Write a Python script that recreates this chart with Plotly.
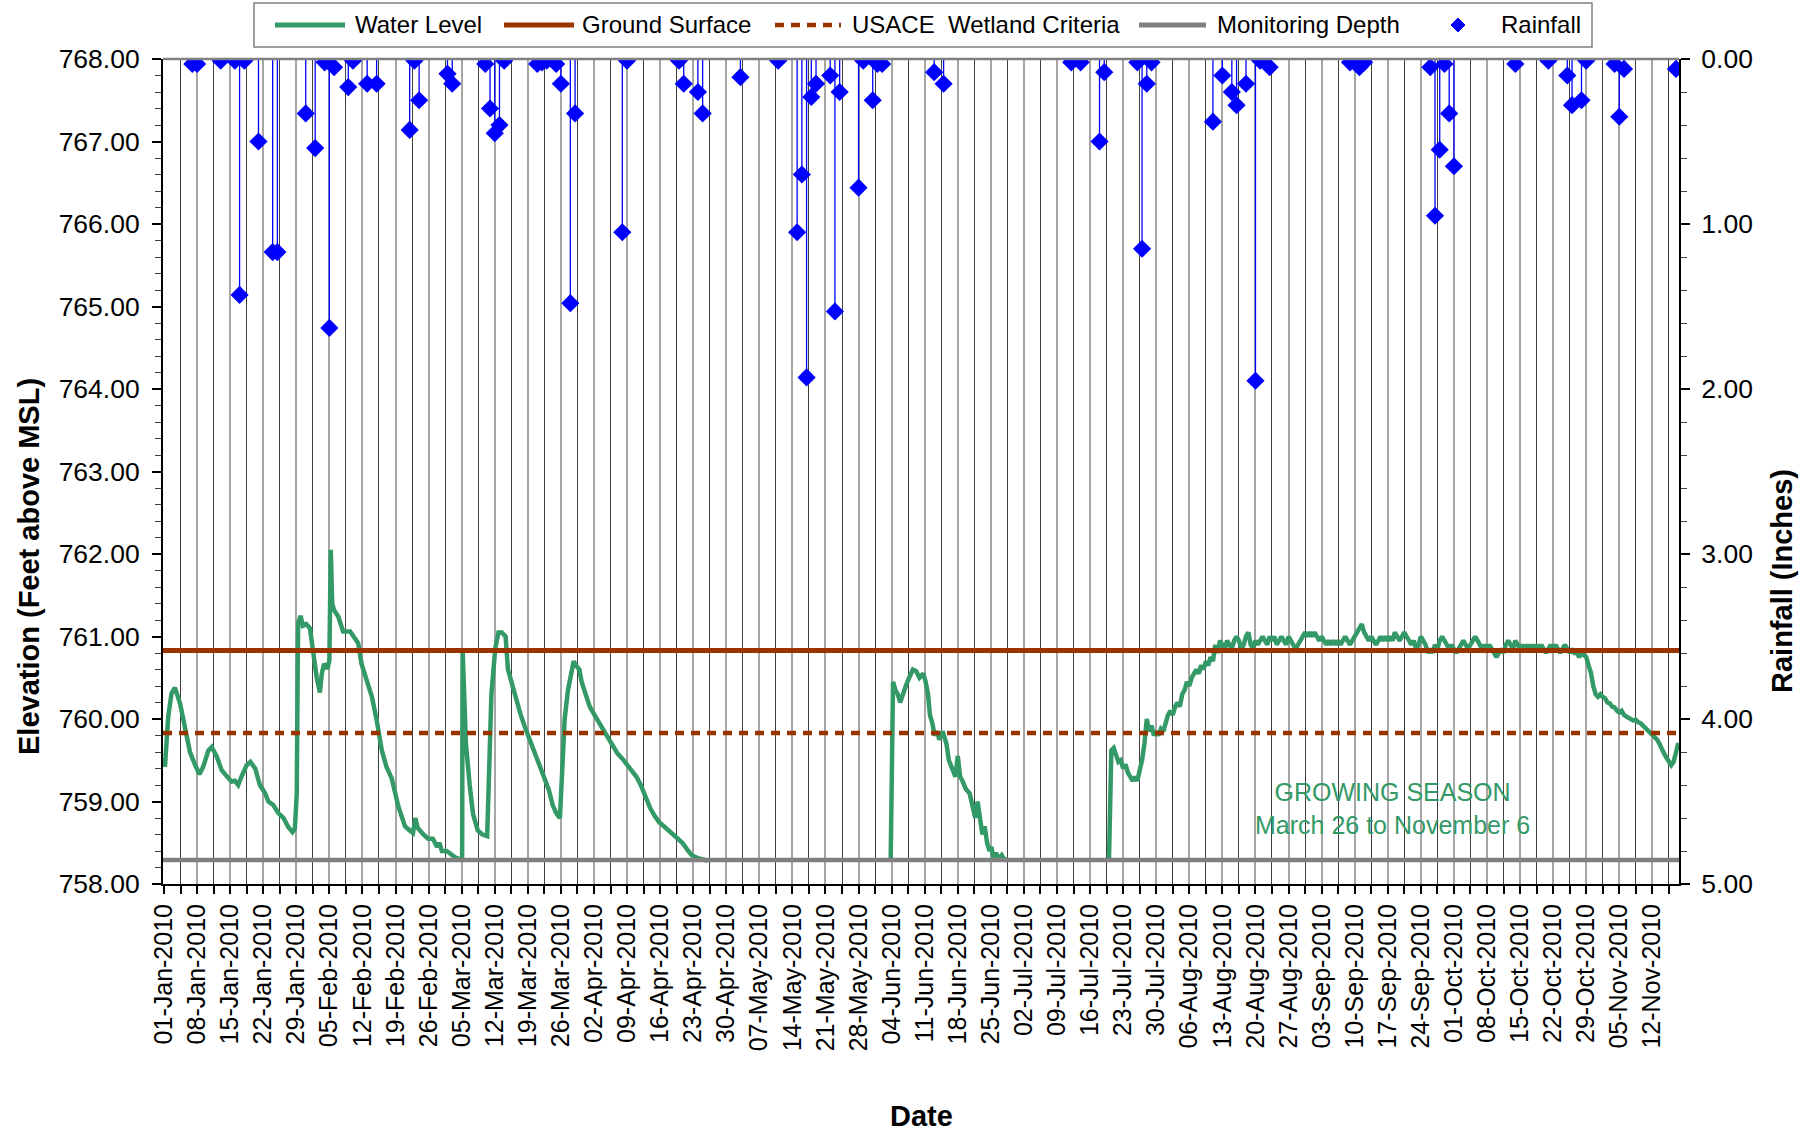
import pandas as pd
import plotly.graph_objects as go

# ---------------------------------------------------------------- data
BASE_DATE = "2010-01-01"

# Water level (ft above MSL); days counted from 01-Jan-2010.
# Winter / spring record
WL1_DAY = [0.2, 0.9, 1.6, 2.3, 3.4, 4.4, 5.5, 6.6, 7.5, 8.3,
           9.4, 10.1, 11.2, 12.2, 13.3, 14.3, 15.0, 15.7, 16.4, 17.5,
           18.3, 19.3, 20.3, 21.4, 22.1, 23.1, 24.2, 25.3, 26.3, 27.2,
           27.7, 28.1, 28.3, 28.4, 28.9, 29.4, 30.1, 30.9, 31.6, 32.3,
           33.0, 33.4, 33.9, 34.6, 35.0, 35.3, 35.6, 36.0, 36.9, 37.9,
           39.4, 40.4, 41.1, 41.8, 42.9, 44.0, 45.0, 46.1, 47.1, 48.2,
           49.6, 51.0, 52.0, 52.7, 53.2, 53.7, 54.9, 55.9, 56.9, 57.8,
           58.3, 58.8, 59.8, 60.8, 61.7, 62.7, 63.1, 63.2, 63.5, 63.9,
           64.7, 65.4, 66.4, 67.4, 68.4, 68.8, 69.3, 70.1, 70.8, 71.5,
           72.3, 72.8, 73.5, 74.5, 75.5, 76.4, 77.4, 78.4, 79.4, 80.4,
           81.4, 82.3, 83.1, 83.8, 84.3, 84.8, 85.5, 86.2, 86.7, 87.2,
           87.9, 88.4, 89.2, 90.1, 91.1, 92.1, 93.1, 94.1, 95.1, 96.0,
           97.0, 98.0, 99.0, 100.0, 100.9, 101.9, 102.9, 103.9, 104.8, 105.8,
           106.8, 107.8, 108.8, 109.7, 110.7, 111.7, 112.7, 113.7, 115.1]
WL1_VAL = [759.42, 760.03, 760.31, 760.38, 760.19, 759.91, 759.60, 759.44, 759.33, 759.42,
           759.62, 759.66, 759.54, 759.38, 759.30, 759.24, 759.25, 759.20, 759.30, 759.44,
           759.48, 759.40, 759.20, 759.10, 759.00, 758.96, 758.86, 758.80, 758.69, 758.63,
           758.67, 759.10, 760.63, 761.16, 761.25, 761.13, 761.15, 761.10, 760.80, 760.51,
           760.32, 760.55, 760.67, 760.61, 760.71, 762.05, 761.40, 761.32, 761.24, 761.06,
           761.06, 760.98, 760.92, 760.67, 760.47, 760.27, 759.99, 759.62, 759.42, 759.28,
           758.94, 758.70, 758.65, 758.62, 758.80, 758.68, 758.60, 758.55, 758.55, 758.45,
           758.50, 758.40, 758.40, 758.35, 758.32, 758.30, 758.32, 760.85, 760.20, 759.70,
           759.20, 758.85, 758.65, 758.60, 758.58, 759.50, 760.30, 760.85, 761.05, 761.05,
           761.00, 760.60, 760.45, 760.25, 760.05, 759.90, 759.75, 759.60, 759.45, 759.30,
           759.15, 758.95, 758.85, 758.80, 759.40, 760.00, 760.35, 760.55, 760.70, 760.65,
           760.60, 760.45, 760.30, 760.15, 760.05, 759.95, 759.85, 759.75, 759.65, 759.58,
           759.52, 759.45, 759.38, 759.30, 759.20, 759.05, 758.92, 758.82, 758.75, 758.70,
           758.65, 758.60, 758.55, 758.50, 758.42, 758.35, 758.32, 758.30, 758.28]

# June record
WL2_DAY = [153.8, 154.1, 154.3, 154.8, 155.3, 155.8, 156.3, 157.0, 157.7, 158.5,
           159.2, 159.9, 160.7, 161.2, 161.7, 162.1, 162.6, 163.1, 163.6, 164.1,
           164.8, 165.6, 166.1, 166.8, 167.5, 168.0, 168.5, 169.0, 169.7, 170.5,
           171.2, 171.7, 172.2, 172.7, 173.2, 173.7, 174.2, 174.7, 175.1, 175.6,
           176.1, 176.6, 177.3, 177.8, 178.3]
WL2_VAL = [758.30, 759.40, 760.45, 760.35, 760.30, 760.20, 760.30, 760.40, 760.50, 760.60,
           760.58, 760.50, 760.55, 760.45, 760.30, 760.05, 759.95, 759.80, 759.85, 759.75,
           759.85, 759.70, 759.50, 759.40, 759.30, 759.55, 759.30, 759.25, 759.15, 759.10,
           758.95, 758.80, 759.00, 758.75, 758.60, 758.70, 758.50, 758.40, 758.45, 758.30,
           758.38, 758.30, 758.35, 758.30, 758.30]

# Summer / autumn record, 12-hourly readings from 20-Jul-2010
WL3_START = "2010-07-20"
WL3_VAL = [758.30,
           759.62, 759.65, 759.55, 759.48, 759.50, 759.40, 759.45, 759.35, 759.30, 759.25,
           759.30, 759.25, 759.38, 759.50, 759.70, 760.00, 759.85, 759.92, 759.80, 759.85,
           759.80, 759.88, 759.85, 759.95, 760.05, 760.10, 760.05, 760.15, 760.20, 760.15,
           760.30, 760.35, 760.45, 760.40, 760.50, 760.55, 760.60, 760.55, 760.65, 760.60,
           760.70, 760.65, 760.75, 760.70, 760.90, 760.80, 760.95, 760.90, 760.85, 760.95,
           760.90, 760.85, 760.95, 761.00, 760.95, 760.85, 760.90, 761.00, 761.05, 760.90,
           760.85, 760.95, 760.90, 760.95, 761.00, 760.95, 760.90, 761.00, 760.95, 761.00,
           760.90, 760.95, 761.00, 760.95, 760.90, 761.00, 760.95, 760.90, 760.85, 760.90,
           760.95, 761.00, 761.05, 761.00, 761.05, 761.00, 761.05, 761.00, 760.95, 761.00,
           760.95, 760.90, 760.95, 760.90, 760.95, 760.90, 760.95, 760.90, 760.95, 761.00,
           760.95, 760.90, 760.95, 761.00, 761.05, 761.10, 761.15, 761.05, 761.00, 760.95,
           761.00, 760.95, 760.90, 760.95, 761.00, 760.95, 761.00, 760.95, 761.00, 760.95,
           761.05, 761.00, 760.95, 761.00, 761.05, 761.00, 760.95, 760.90, 760.95, 760.85,
           760.90, 761.00, 760.95, 760.90, 760.80, 760.85, 760.80, 760.90, 760.85, 760.95,
           761.00, 760.95, 760.90, 760.85, 760.90, 760.85, 760.80, 760.85, 760.90, 760.95,
           760.90, 760.85, 760.90, 760.95, 761.00, 760.95, 760.90, 760.85, 760.90, 760.85,
           760.90, 760.85, 760.80, 760.75, 760.80, 760.85, 760.80, 760.90, 760.95, 760.90,
           760.85, 760.95, 760.90, 760.85, 760.90, 760.85, 760.90, 760.85, 760.90, 760.85,
           760.90, 760.85, 760.90, 760.85, 760.80, 760.85, 760.90, 760.85, 760.90, 760.85,
           760.80, 760.85, 760.90, 760.85, 760.80, 760.85, 760.80, 760.80, 760.75, 760.80,
           760.78, 760.75, 760.65, 760.56, 760.40, 760.30, 760.27, 760.30, 760.27, 760.25,
           760.20, 760.19, 760.15, 760.14, 760.10, 760.08, 760.10, 760.05, 760.03, 760.01,
           760.00, 759.98, 759.99, 759.96, 759.95, 759.92, 759.90, 759.87, 759.84, 759.80,
           759.77, 759.75, 759.70, 759.62, 759.58, 759.53, 759.47, 759.44, 759.48, 759.62,
           759.71]

# Reference elevations (ft above MSL)
GROUND_SURFACE = 760.83
WETLAND_CRITERIA = 759.83
MONITORING_DEPTH = 758.29

# Daily rainfall (inches); days counted from 01-Jan-2010
RAIN_DAY = [6, 7, 12, 15, 16, 17, 20, 23, 24, 30, 32, 34, 35, 36, 39, 40, 43, 45,
            52, 53, 54, 60, 61, 68, 69, 70, 71, 72, 79, 80, 81, 83, 84, 86, 87,
            97, 98, 109, 110, 113, 114, 122, 130, 134, 135, 136, 137, 138, 141, 142,
            143, 147, 148, 150, 151, 152, 163, 165, 192, 194, 198, 199, 206, 207,
            208, 209, 222, 224, 226, 227, 229, 231, 232, 234, 251, 253, 254, 268,
            269, 270, 271, 272, 273, 286, 293, 297, 298, 300, 301, 307, 308, 309, 320]
RAIN_IN = [0.03, 0.03, 0.01, 0.01, 1.43, 0.01, 0.50, 1.17, 1.17, 0.33, 0.54, 0.02, 1.63, 0.05, 0.17, 0.01, 0.15, 0.15,
           0.43, 0.01, 0.25, 0.09, 0.15, 0.03, 0.30, 0.45, 0.40, 0.01, 0.03, 0.02, 0.01, 0.03, 0.15, 1.48, 0.33,
           1.05, 0.01, 0.01, 0.15, 0.20, 0.33, 0.11, 0.01, 1.05, 0.70, 1.93, 0.23, 0.15, 0.10, 1.53,
           0.20, 0.78, 0.01, 0.25, 0.03, 0.03, 0.08, 0.15, 0.02, 0.02, 0.50, 0.08, 0.02, 1.15,
           0.15, 0.02, 0.38, 0.10, 0.20, 0.28, 0.15, 1.95, 0.01, 0.05, 0.02, 0.05, 0.02, 0.05,
           0.95, 0.55, 0.03, 0.33, 0.65, 0.03, 0.01, 0.10, 0.28, 0.25, 0.01, 0.03, 0.35, 0.06, 0.06]

LEGEND_LABELS = ["Water Level", "Ground Surface", "USACE  Wetland Criteria",
                 "Monitoring Depth", "Rainfall"]
NOTE_LINES = ["GROWING SEASON", "March 26 to November 6"]

# ---------------------------------------------------------------- styling
FONT = "Liberation Sans, Arial, Helvetica, sans-serif"
GREEN = "#339966"
BROWN = "#993300"
GREY = "#808080"
BLUE = "#0000FF"

W, H = 1814, 1134
PL, PR, PT, PB = 163, 1679, 59, 884   # plot area in page pixels


def px_x(px):
    return (px - PL) / (PR - PL)


def px_y(py):
    return (PB - py) / (PB - PT)


base = pd.Timestamp(BASE_DATE)


def to_dates(days):
    return [base + pd.Timedelta(days=float(d)) for d in days]


x_start = base - pd.Timedelta(hours=5)
x_end = pd.Timestamp("2010-11-17 15:20")

wl3_dates = list(pd.date_range(WL3_START, periods=len(WL3_VAL), freq="12h"))
wl_x = to_dates(WL1_DAY) + [None] + to_dates(WL2_DAY) + [None] + wl3_dates
wl_y = WL1_VAL + [None] + WL2_VAL + [None] + WL3_VAL

fig = go.Figure()

fig.add_trace(go.Scatter(
    x=wl_x, y=wl_y, mode="lines", name=LEGEND_LABELS[0],
    line=dict(color=GREEN, width=4.5), connectgaps=False))

fig.add_trace(go.Scatter(
    x=[x_start, x_end], y=[GROUND_SURFACE] * 2, mode="lines", name=LEGEND_LABELS[1],
    line=dict(color=BROWN, width=5)))
fig.add_trace(go.Scatter(
    x=[x_start, x_end], y=[WETLAND_CRITERIA] * 2, mode="lines", name=LEGEND_LABELS[2],
    line=dict(color=BROWN, width=4.5, dash="9px,7px")))
fig.add_trace(go.Scatter(
    x=[x_start, x_end], y=[MONITORING_DEPTH] * 2, mode="lines", name=LEGEND_LABELS[3],
    line=dict(color=GREY, width=4.5)))

fig.add_trace(go.Scatter(
    x=to_dates(RAIN_DAY), y=RAIN_IN, yaxis="y2", mode="markers", name=LEGEND_LABELS[4],
    marker=dict(symbol="diamond", size=14, color=BLUE),
    error_y=dict(type="data", symmetric=False, array=[0] * len(RAIN_IN),
                 arrayminus=RAIN_IN, color=BLUE, thickness=1.3, width=0)))

DAY_MS = 86400000
tick_font = dict(family=FONT, size=26.5, color="black")

fig.update_layout(
    width=W, height=H,
    margin=dict(l=PL, r=W - PR, t=PT, b=H - PB, pad=0),
    paper_bgcolor="white", plot_bgcolor="white",
    showlegend=False,
    font=dict(family=FONT, color="black"),
    xaxis=dict(
        type="date", range=[x_start, x_end],
        tick0=base, dtick=7 * DAY_MS, tickformat="%d-%b-%Y", tickangle=-90,
        tickfont=dict(family=FONT, size=25, color="black"),
        showgrid=True, gridcolor="#a6a6a6", gridwidth=2,
        ticks="outside", ticklen=8, tickcolor="black", tickwidth=1.5,
        showline=True, linecolor="black", linewidth=2, zeroline=False,
        minor=dict(tick0=base, dtick=3.5 * DAY_MS, showgrid=True,
                   gridcolor="#404040", gridwidth=1,
                   ticks="outside", ticklen=8, tickcolor="black", tickwidth=1.5),
    ),
    yaxis=dict(
        range=[758, 768], dtick=1, tickformat=".2f", tickfont=tick_font,
        showgrid=False, zeroline=False, ticklabelstandoff=7,
        ticks="outside", ticklen=9, tickcolor="black", tickwidth=1.5,
        showline=True, linecolor="black", linewidth=2,
        minor=dict(dtick=0.2, ticks="outside", ticklen=6, tickcolor="#404040", tickwidth=1.2),
    ),
    yaxis2=dict(
        overlaying="y", side="right", range=[5, 0], dtick=1, tickformat=".2f",
        tickfont=tick_font, showgrid=False, zeroline=False, ticklabelstandoff=6,
        ticks="outside", ticklen=9, tickcolor="black", tickwidth=1.5,
        showline=True, linecolor="black", linewidth=2,
        minor=dict(dtick=0.2, ticks="outside", ticklen=6, tickcolor="#404040", tickwidth=1.2),
    ),
)

# top border of the plot area
fig.add_shape(type="line", xref="paper", yref="paper", x0=0, x1=1, y0=1, y1=1,
              line=dict(color=GREY, width=2.5))


def note(text, x, y, font, angle=0):
    fig.add_annotation(text=text, textangle=angle, xref="paper", yref="paper",
                       x=px_x(x), y=px_y(y), xanchor="center", yanchor="middle",
                       showarrow=False, align="center", font=font)


# axis titles
title_font = dict(family=FONT, size=29, color="black")
note("<b>Elevation (Feet above MSL)</b>", 29, 567, title_font, -90)
note("<b>Rainfall (Inches)</b>", 1782, 581, title_font, -90)
note("<b>Date</b>", 921, 1116, title_font)

# growing season note
note("<br>".join(NOTE_LINES), 1392, 808, dict(family=FONT, size=25, color=GREEN))

# legend box
LEG_Y = 25
fig.add_shape(type="rect", xref="paper", yref="paper",
              x0=px_x(254), x1=px_x(1592), y0=px_y(47), y1=px_y(3),
              line=dict(color=GREY, width=1.5), fillcolor="white")
legend_items = [
    (LEGEND_LABELS[0], 275, 345, dict(color=GREEN, width=5), 353),
    (LEGEND_LABELS[1], 504, 574, dict(color=BROWN, width=5), 580),
    (LEGEND_LABELS[2], 775, 841, dict(color=BROWN, width=4.5, dash="9px,7px"), 850),
    (LEGEND_LABELS[3], 1139, 1206, dict(color=GREY, width=5), 1215),
]
for label, lx0, lx1, lstyle, tx in legend_items:
    fig.add_shape(type="line", xref="paper", yref="paper",
                  x0=px_x(lx0), x1=px_x(lx1), y0=px_y(LEG_Y), y1=px_y(LEG_Y), line=lstyle)
    fig.add_annotation(text=label, xref="paper", yref="paper", x=px_x(tx), y=px_y(LEG_Y),
                       xanchor="left", yanchor="middle", showarrow=False,
                       font=dict(family=FONT, size=24, color="black"))
# rainfall legend symbol (diamond)
cx, cy, r = 1458, LEG_Y, 7
fig.add_shape(type="path", xref="paper", yref="paper",
              path=(f"M {px_x(cx)} {px_y(cy - r)} L {px_x(cx + r)} {px_y(cy)} "
                    f"L {px_x(cx)} {px_y(cy + r)} L {px_x(cx - r)} {px_y(cy)} Z"),
              fillcolor=BLUE, line=dict(color=BLUE, width=1))
fig.add_annotation(text=LEGEND_LABELS[4], xref="paper", yref="paper", x=px_x(1499), y=px_y(LEG_Y),
                   xanchor="left", yanchor="middle", showarrow=False,
                   font=dict(family=FONT, size=24, color="black"))

fig.write_html("out.html")
